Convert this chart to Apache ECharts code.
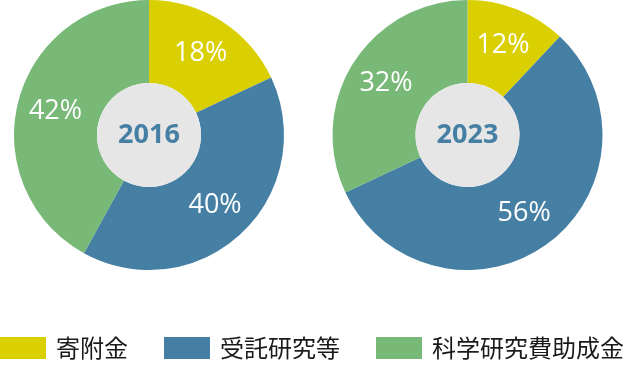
<!DOCTYPE html>
<html>
<head>
<meta charset="utf-8">
<script src="https://cdn.jsdelivr.net/npm/echarts@6/dist/echarts.min.js"></script>
<style>
html,body{margin:0;padding:0;background:#fff;}
#chart{width:625px;height:366px;}
</style>
</head>
<body>
<div id="chart"></div>
<script>
const categories = ['寄附金', '受託研究等', '科学研究費助成金'];
const years = ['2016', '2023'];
const values2016 = [18, 40, 42];
const values2023 = [12, 56, 32];
const colors = ['#dacf00', '#467fa4', '#78b978'];

const chart = echarts.init(document.getElementById('chart'), null, {renderer: 'canvas'});

function donut(values, center) {
  return {
    type: 'pie',
    center: center,
    radius: [52, 135],
    startAngle: 90,
    clockwise: true,
    silent: true,
    animation: false,
    label: {
      show: true,
      position: 'inside',
      formatter: '{c}%',
      color: '#ffffff',
      fontSize: 27,
      fontFamily: 'Open Sans',
      fontWeight: 'normal'
    },
    labelLine: {show: false},
    itemStyle: {borderWidth: 0},
    data: categories.map((c, i) => ({name: c, value: values[i], itemStyle: {color: colors[i]}}))
  };
}

function hub(year, center) {
  return {
    type: 'pie',
    center: center,
    radius: [0, 52],
    silent: true,
    animation: false,
    label: {
      show: true,
      position: 'center',
      formatter: year,
      color: '#467fa4',
      fontSize: 27,
      fontWeight: 'bold',
      fontFamily: 'Open Sans'
    },
    labelLine: {show: false},
    itemStyle: {color: '#e6e6e6'},
    data: [{name: 'year' + year, value: 1}]
  };
}

chart.setOption({
  animation: false,
  color: colors,
  legend: {
    data: categories,
    left: 0,
    top: 336,
    padding: 0,
    itemWidth: 46,
    itemHeight: 22,
    itemGap: 36,
    icon: 'rect',
    selectedMode: false,
    textStyle: {
      fontSize: 24,
      color: '#1a1a1a',
      fontFamily: 'Noto Sans CJK JP',
      padding: [0, 0, 0, 5]
    }
  },
  series: [
    donut(values2016, [149, 135]),
    hub(years[0], [149, 135]),
    donut(values2023, [467.5, 135]),
    hub(years[1], [467.5, 135])
  ]
});
</script>
</body>
</html>
